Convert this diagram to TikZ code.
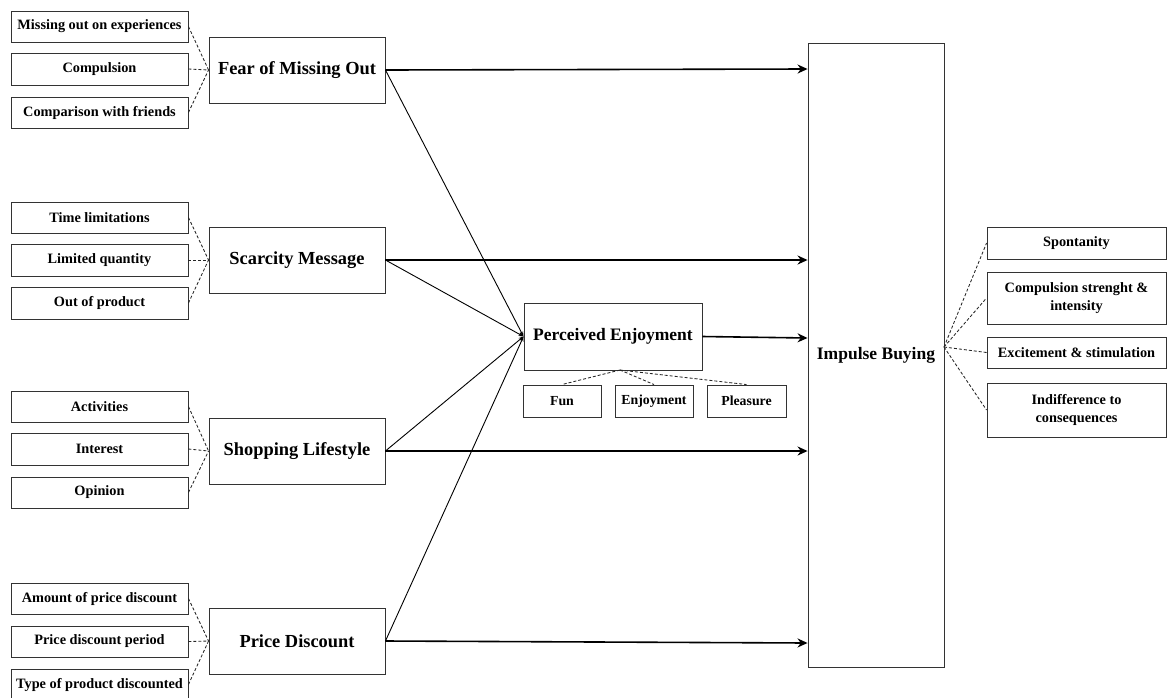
\documentclass[tikz,border=0pt]{standalone}
\usepackage{fontspec}
\setmainfont{Liberation Serif}
\usetikzlibrary{arrows.meta}
\begin{document}
\begin{tikzpicture}[x=1pt,y=-1pt,
  sbox/.style={draw=black!80,line width=0.9pt,inner sep=0pt,minimum width=177pt,minimum height=31pt,
    font=\fontsize{14.3}{18}\selectfont\bfseries,align=center},
  bbox/.style={draw=black!80,line width=0.9pt,inner sep=0pt,minimum width=176pt,minimum height=66pt,
    font=\fontsize{18.4}{20}\selectfont\bfseries},
  cbox/.style={bbox,font=\fontsize{17.5}{20}\selectfont\bfseries},
  ebox/.style={sbox,minimum width=78pt,minimum height=32pt,font=\fontsize{13.8}{18}\selectfont\bfseries},
  rbox/.style={sbox,minimum width=179pt},
  dline/.style={dashed,dash pattern=on 3pt off 2pt,line width=0.85pt,draw=black!85},
  mainarrow/.style={line width=1.6pt,-{Stealth[length=10pt,width=9pt]}},
  pearrow/.style={line width=0.9pt,-{Stealth[length=5pt,width=4pt]}}]
\useasboundingbox (0,0) rectangle (1168,697);
% left subdimensions
\node[sbox] (m1) at (99.5,26.5) {Missing out on experiences};
\node[sbox,minimum height=32pt] (m2) at (99.5,69) {Compulsion};
\node[sbox] (m3) at (99.5,112.5) {Comparison with friends};
\node[sbox] (s1) at (99.5,217.5) {Time limitations};
\node[sbox,minimum height=32pt] (s2) at (99.5,260) {Limited quantity};
\node[sbox,minimum height=32pt] (s3) at (99.5,303) {Out of product};
\node[sbox] (h1) at (99.5,406.5) {Activities};
\node[sbox,minimum height=32pt] (h2) at (99.5,449) {Interest};
\node[sbox] (h3) at (99.5,492.5) {Opinion};
\node[sbox] (p1) at (99.5,598.5) {Amount of price discount};
\node[sbox] (p2) at (99.5,641.5) {Price discount period};
\node[sbox] (p3) at (99.5,684.5) {Type of product discounted};
% constructs
\node[bbox] (fomo) at (297,70) {Fear of Missing Out};
\node[bbox] (scar) at (297,260) {Scarcity Message};
\node[bbox] (shop) at (297,451) {Shopping Lifestyle};
\node[bbox] (price) at (297,641) {Price Discount};
\node[cbox,minimum width=178pt,minimum height=67pt] (pe) at (613,336.5) {Perceived Enjoyment};
\node[cbox,minimum width=136pt,minimum height=624pt] (ib) at (876,355) {Impulse Buying};
% PE subdimensions
\node[ebox] (fun) at (562,401) {Fun};
\node[ebox] (enj) at (654,401) {Enjoyment};
\node[ebox,minimum width=79pt] (ple) at (746.5,401) {Pleasure};
% right subdimensions
\node[rbox,minimum height=32pt] (r1) at (1076.5,243) {Spontanity};
\node[rbox,minimum height=52pt] (r2) at (1076.5,298) {Compulsion strenght \&\\intensity};
\node[rbox] (r3) at (1076.5,352.5) {Excitement \& stimulation};
\node[rbox,minimum height=54pt] (r4) at (1076.5,410) {Indifference to\\consequences};
% dashed links
\foreach \a/\b in {m1/fomo,m2/fomo,m3/fomo,s1/scar,s2/scar,s3/scar,h1/shop,h2/shop,h3/shop,p1/price,p2/price,p3/price}
  \draw[dline] (\a.east) -- (\b.west);
\coordinate (pec) at (620,370);
\foreach \a in {fun,enj,ple} \draw[dline] (pec) -- (\a.north);
\coordinate (ibc) at (944,347);
\foreach \a in {r1,r2,r3,r4} \draw[dline] (ibc) -- (\a.west);
% paths to perceived enjoyment
\foreach \a in {fomo,scar,shop,price} \draw[pearrow] (\a.east) -- (pe.west);
% main arrows
\draw[mainarrow] (fomo.east) -- ([yshift=1pt]fomo.east -| ib.west);
\draw[mainarrow] (scar.east) -- (scar.east -| ib.west);
\draw[mainarrow] (pe.east) -- ([yshift=-1.5pt]pe.east -| ib.west);
\draw[mainarrow] (shop.east) -- (shop.east -| ib.west);
\draw[mainarrow] (price.east) -- ([yshift=-2pt]price.east -| ib.west);
\end{tikzpicture}
\end{document}
